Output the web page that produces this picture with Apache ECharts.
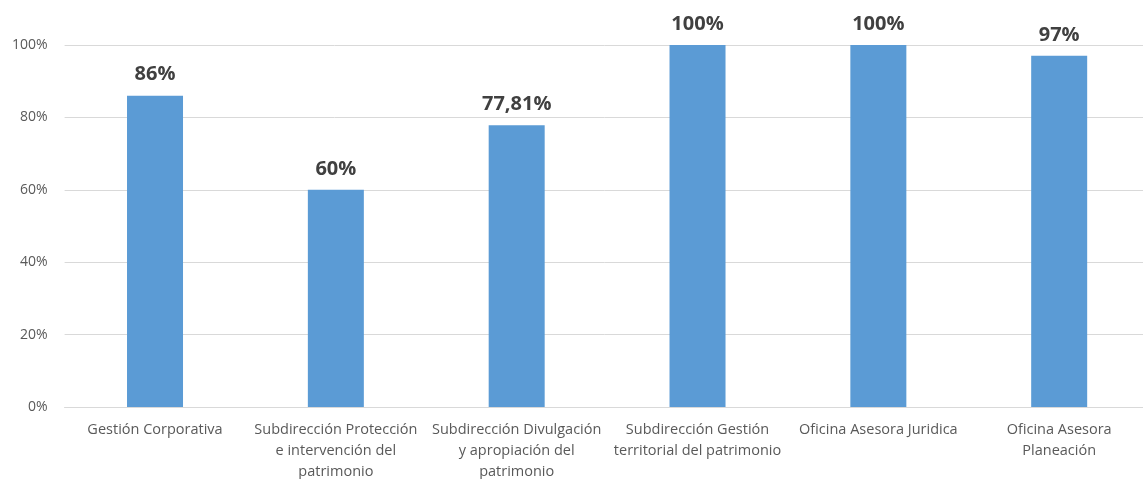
<!DOCTYPE html>
<html>
<head>
<meta charset="utf-8">
<script src="https://cdn.jsdelivr.net/npm/echarts@6/dist/echarts.min.js"></script>
<style>html,body{margin:0;padding:0;background:#fff}#c{width:1143px;height:479px}</style>
</head>
<body>
<div id="c"></div>
<script>
const categories = [
  "Gestión Corporativa",
  "Subdirección Protección\ne intervención del\npatrimonio",
  "Subdirección Divulgación\ny apropiación del\npatrimonio",
  "Subdirección Gestión\nterritorial del patrimonio",
  "Oficina Asesora Juridica",
  "Oficina Asesora\nPlaneación"
];
const values = [86, 60, 77.81, 100, 100, 97];
const yTicks = [0, 20, 40, 60, 80, 100];

const chart = echarts.init(document.getElementById('c'));
chart.setOption({
  animation: false,
  grid: { left: 64.6, width: 1085, top: 45, height: 362, containLabel: false, outerBoundsMode: 'none' },
  xAxis: {
    type: 'category',
    data: categories,
    axisLine: { lineStyle: { color: '#d9d9d9', width: 1 } },
    axisTick: { show: false },
    axisLabel: { interval: 0, color: '#595959', fontFamily: 'Open Sans, Liberation Sans, sans-serif', fontSize: 14.5, lineHeight: 21, margin: 12 }
  },
  yAxis: {
    type: 'value',
    min: yTicks[0], max: yTicks[yTicks.length - 1], interval: 20,
    axisLine: { show: false },
    axisTick: { show: false },
    splitLine: { lineStyle: { color: '#d9d9d9', width: 1 } },
    axisLabel: { formatter: v => v + '%', color: '#595959', fontFamily: 'Open Sans, Liberation Sans, sans-serif', fontSize: 14, margin: 17 }
  },
  series: [{
    type: 'bar',
    data: values,
    barWidth: 56,
    itemStyle: { color: '#5b9bd5' },
    label: {
      show: true, position: 'top', distance: 11,
      formatter: p => String(p.value).replace('.', ',') + '%',
      color: '#404040', fontWeight: 'bold', fontSize: 20,
      fontFamily: 'Open Sans, Liberation Sans, sans-serif'
    }
  }]
});
</script>
</body>
</html>
